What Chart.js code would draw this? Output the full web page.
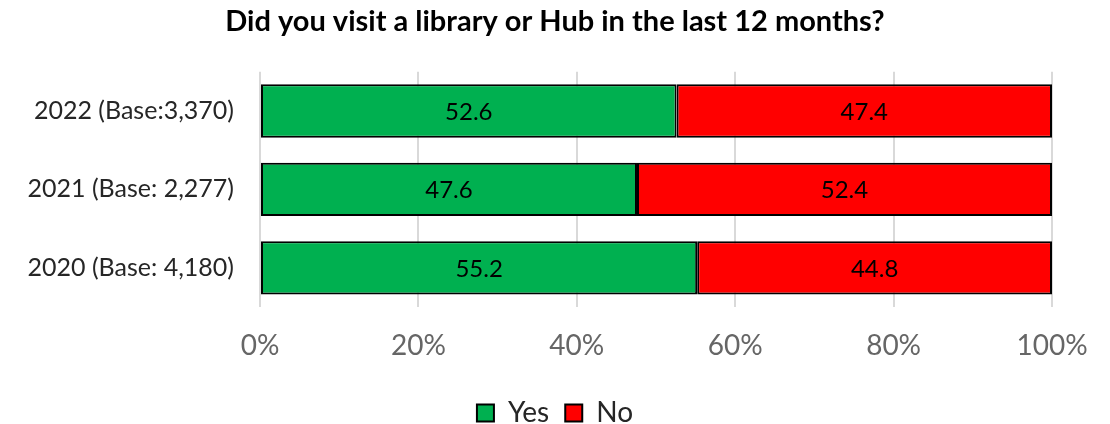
<!DOCTYPE html>
<html>
<head>
<meta charset="utf-8">
<script src="https://cdn.jsdelivr.net/npm/chart.js@4"></script>
<style>
  html, body { margin: 0; padding: 0; background: #fff; }
  #wrap { width: 1110px; height: 424px; }
</style>
</head>
<body>
<div id="wrap"><canvas id="visitChart"></canvas></div>
<script>
// data
const categories = ['2022 (Base:3,370)', '2021 (Base: 2,277)', '2020 (Base: 4,180)'];
const yesValues = [52.6, 47.6, 55.2];
const noValues = [47.4, 52.4, 44.8];
const xTicks = [0, 20, 40, 60, 80, 100];

const FONT = 'Lato, "Noto Sans", sans-serif';

// labels in the middle of each bar segment
const barLabels = {
    id: 'barLabels',
    afterDatasetsDraw(chart) {
        const ctx = chart.ctx;
        ctx.save();
        ctx.font = '24px ' + FONT;
        ctx.fillStyle = '#000';
        ctx.textAlign = 'center';
        ctx.textBaseline = 'middle';
        chart.data.datasets.forEach((ds, i) => {
            chart.getDatasetMeta(i).data.forEach((bar, j) => {
                const mid = (bar.x + bar.base) / 2;
                ctx.fillText(ds.data[j].toFixed(1), mid, bar.y + 1);
            });
        });
        ctx.restore();
    }
};

// legend a bit lower than chart.js puts it
const legendHeight = {
    id: 'legendHeight',
    afterInit(chart) {
        const lg = chart.legend;
        if (!lg) return;
        const fit = lg.fit.bind(lg);
        lg.fit = function () {
            fit();
            this.height = 41;
        };
    }
};

new Chart(document.getElementById('visitChart'), {
    type: 'bar',
    data: {
        labels: categories,
        datasets: [
            {
                label: 'Yes',
                data: yesValues,
                backgroundColor: '#00b050',
                borderColor: '#000',
                borderWidth: 2,
                borderSkipped: false,
                categoryPercentage: 1,
                barPercentage: 0.68
            },
            {
                label: 'No',
                data: noValues,
                backgroundColor: '#ff0000',
                borderColor: '#000',
                borderWidth: 2,
                borderSkipped: false,
                categoryPercentage: 1,
                barPercentage: 0.68
            }
        ]
    },
    options: {
        responsive: true,
        maintainAspectRatio: false,
        animation: false,
        indexAxis: 'y',
        layout: {
            padding: { left: 0, right: 0, top: 0, bottom: 0 }
        },
        scales: {
            x: {
                stacked: true,
                min: 0,
                max: 100,
                afterBuildTicks(axis) {
                    axis.ticks = xTicks.map(v => ({ value: v }));
                },
                afterFit(axis) {
                    axis.height = 76;
                    axis.paddingRight = 58;
                },
                grid: { color: '#d9d9d9', lineWidth: 2, drawTicks: false },
                border: { display: false },
                ticks: {
                    color: '#666',
                    font: { size: 28, family: FONT },
                    padding: 22,
                    callback: v => v + '%'
                }
            },
            y: {
                stacked: true,
                afterFit(axis) { axis.width = 260; },
                grid: { display: false },
                border: { display: false },
                ticks: {
                    color: '#262626',
                    font: { size: 25, family: FONT },
                    padding: 18
                }
            }
        },
        plugins: {
            title: {
                display: true,
                text: 'Did you visit a library or Hub in the last 12 months?',
                color: '#000',
                font: { size: 29, weight: 'bold', family: FONT },
                padding: { top: 4, bottom: 33 }
            },
            legend: {
                position: 'bottom',
                labels: {
                    color: '#262626',
                    boxWidth: 17,
                    boxHeight: 17,
                    padding: 16,
                    font: { size: 28, family: FONT }
                }
            },
            tooltip: { enabled: false }
        }
    },
    plugins: [barLabels, legendHeight]
});
</script>
</body>
</html>
